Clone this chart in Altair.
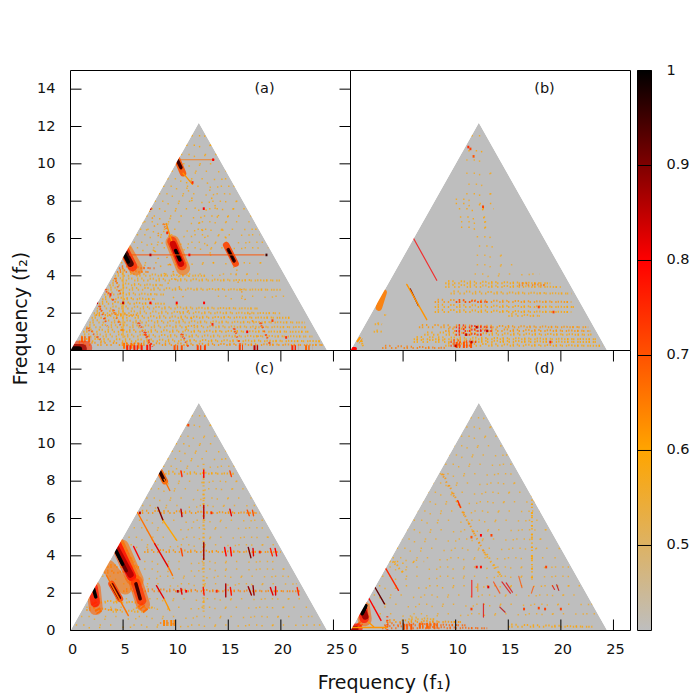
from __future__ import annotations

import altair as alt
import pandas as pd

FONT = "DejaVu Sans"
X_MAX = 26.62
Y_MAX = 15

X_TICKS = [0, 5, 10, 15, 20, 25]
Y_TICKS = [0, 2, 4, 6, 8, 10, 12, 14]
CB_TICKS = [0.5, 0.6, 0.7, 0.8, 0.9, 1]

# palette of the bicoherence scale
CB_VALUES = [0.4105, 0.6, 0.8, 1.0]
CB_COLORS = ["#bebebe", "#ffa500", "#ff0000", "#000000"]

TRI_F1 = [0, 12.2, 24.4]
TRI_F2 = [0, 12.2, 0]
MASK_F1 = [0, 12.2, 24.4, 26.62]
MASK_F2 = [0, 12.2, 0, 0]

# segments are (f1, f2, f1 end, f2 end, level), cells are (f1, f2, level)
A_SPARSE = [
    (4.8, 4.7, 19, 4.7, .58), (5.6, 5.5, 18.8, 5.5, .58), (6, 5.8, 18.5, 5.8, .57), (6.3, 6.2, 18, 6.2, .58),
    (6.6, 6.5, 17.8, 6.5, .58), (7, 6.9, 17.5, 6.9, .57), (7.2, 7.2, 17.2, 7.2, .6), (7.7, 7.6, 16.8, 7.6, .6),
    (8, 8, 16.4, 8, .58), (8.4, 8.4, 16, 8.4, .57), (8.8, 8.8, 15.6, 8.8, .58), (9.2, 9.2, 15.2, 9.2, .58),
    (9.6, 9.6, 14.8, 9.6, .57), (10, 10, 14.4, 10, .58), (10.5, 10.5, 13.9, 10.5, .58), (11, 11, 13.4, 11, .6),
    (11.5, 11.5, 12.9, 11.5, .6), (9, 4.1, 18, 4.1, .57), (14, 2.9, 20.5, 2.9, .57), (6, 8.2, 11.5, .5, .6),
    (10.8, 9.4, 14, 4, .6), (13, 9, 16, 4, .6), (7.5, 7.5, 12, 1, .62), (15.5, 4.5, 18, .5, .62),
]
A_DENSE = [
    (.5, .3, 24, .3, .62), (.8, .5, 23.7, .5, .6), (1, .75, 23, .75, .58), (1.2, 1, 22.8, 1, .6),
    (1.5, 1.25, 22.5, 1.25, .58), (1.8, 1.5, 22.3, 1.5, .58), (2, 1.75, 21, 1.75, .6), (2.2, 2, 20, 2, .58),
    (2.5, 2.25, 18, 2.25, .58), (2.7, 2.5, 9, 2.5, .6), (3, 2.75, 8, 2.75, .6), (3.2, 3, 9, 3, .58),
    (3.5, 3.25, 20, 3.25, .58), (3.7, 3.5, 9, 3.5, .58), (4, 3.75, 20, 3.75, .58), (4.2, 4, 13, 4, .58),
    (4.4, 4.2, 7.5, 4.2, .65), (4.6, 4.4, 8, 4.4, .68), (3.2, 3.3, 4.2, 2.6, .72), (1.5, 1.2, 3, .5, .7),
    (6.4, 1.5, 7.6, .3, .72), (7, 1, 7.8, .2, .75), (2.7, 2.4, 3.5, 1.3, .72), (4, 2.2, 5, 1, .68),
    (18, 1.5, 19, .3, .72), (15.5, 1.2, 16.2, .2, .72), (10.5, .9, 11.2, .2, .72), (8.8, 6.8, 9.7, 5.8, .66),
    (4.2, 3.9, 4.8, 2.9, .68), (5.4, 5.7, 4.9, 4.9, .7), (2.4, 1.9, 6.5, 1.9, .62),
]
A_PATCH = [
    (5, .25, 7, .25, .66), (5.3, .12, 6.9, .12, .76), (9.8, .12, 10.8, .12, .7), (12, .12, 12.9, .12, .72),
    (17.4, .12, 17.9, .12, .85), (21, .12, 21.7, .12, .76), (22.3, .12, 23, .12, .68), (16, .15, 16.4, .15, .72),
    (7.2, .15, 7.8, .15, .78), (1, .6, 2, .6, .68),
]
A_XL = [(9.7, 5.8, 10.7, 4.4, .66), (5.2, 5.4, 6.2, 4.4, .66), (0, .15, 1.4, .15, .74)]
A_L = [(9.65, 5.85, 10.6, 4.55, .74), (5.1, 5.4, 5.9, 4.5, .76), (0, .1, 1.1, .1, .88)]
A_M = [
    (9.75, 5.7, 10.5, 4.65, .84), (5, 5.4, 5.7, 4.65, .95), (0, .06, .8, .06, 1), (14.8, 5.65, 15.7, 4.65, .72),
    (10.1, 10.3, 10.7, 9.5, .7),
]
A_S = [
    (10, 5.35, 10.4, 4.85, 1), (5, 5.3, 5.5, 4.75, 1), (15, 5.4, 15.55, 4.8, .95), (10.15, 10.2, 10.5, 9.8, .95),
]
A_T = [(15.05, 5.35, 15.5, 4.85, 1), (9.1, 6.8, 9.6, 5.9, .62), (10.7, 9.5, 11.6, 8.9, .62)]
A_FAINT = [(5.6, 5.12, 18.4, 5.12, .7), (10.5, 10.22, 13.7, 10.22, .66), (5, .7, 5, 4.4, .6)]
A_CELLS = [
    (7.6, 5.12, .85), (11.3, 5.12, .8), (18.63, 5.12, .95), (13.56, 10.22, .8), (2.53, 2.55, .85), (5, 2.55, .85),
    (7.6, 2.55, .8), (10.1, 2.55, .8), (12.7, 2.55, .8), (7.6, 7.6, .85), (12.67, 7.6, .8), (9.2, 6.3, .75),
    (11.6, 9, .75), (3.8, 3, .75), (16.8, 1, .8), (20.5, .7, .75), (13.5, 1.4, .75), (19.2, 1.6, .72),
]

B_SPARSE = [
    (10, 7.87, 13.8, 7.87, .6), (10.3, 7.6, 13.6, 7.6, .6), (10.4, 7.15, 13.4, 7.15, .6), (10.5, 6.9, 13.2, 6.9, .58),
    (10.5, 6.6, 13.4, 6.6, .6), (11, 8.4, 13.5, 8.4, .58), (11.2, 8.9, 13.2, 8.9, .56), (12, 6.1, 13.7, 6.1, .58),
    (12.2, 5.6, 14, 5.6, .58), (12, 5.1, 15, 5.1, .56), (12, 4.6, 16, 4.6, .56), (11.8, 4.1, 18, 4.1, .56),
    (11, 9.5, 13.6, 9.5, .56), (11, 10.2, 13, 10.2, .56), (11.2, 10.7, 12.9, 10.7, .6), (11.5, 11.5, 12.6, 11.5, .58),
    (10, 8.1, 12, 8.1, .58),
]
B_DENSE = [
    (3, .14, 9, .14, .65), (9, .25, 24, .25, .6), (6, .45, 23.6, .45, .6), (6, .6, 23.4, .6, .6),
    (7, .85, 23, .85, .6), (9, 1.05, 22.8, 1.05, .62), (6.5, 1.25, 22.6, 1.25, .62), (9.5, .45, 12, .45, .72),
    (9.5, .25, 11.5, .25, .72), (10, 1.05, 13.5, 1.05, .78), (10, 1.25, 13.5, 1.25, .76), (10, .85, 12.5, .85, .75),
    (8, 2.06, 21, 2.06, .6), (8, 2.33, 21.5, 2.33, .6), (8, 2.6, 21, 2.6, .62), (10, 2.6, 13, 2.6, .72),
    (9, 3.4, 20, 3.4, .58), (9, 3.6, 19, 3.6, .6), (9.5, 3.05, 21, 3.05, .58), (16, 3.5, 18.5, 3.5, .65),
    (1, .55, 1.2, .2, .6), (2.2, 1, 3, 1, .58), (2.3, 1.4, 3, 1.4, .58), (3.2, 1.9, 3.4, 1.9, .58),
    (15, 1.85, 18, 1.85, .58),
]
B_PATCH = [(10, .3, 11.6, .3, .7), (.7, .62, 1, .5, .62)]
B_XL = []
B_L = []
B_M = [(3.15, 3.1, 2.7, 2.3, .65)]
B_S = [(0, .1, .45, .1, .8)]
B_T = [(5.67, 3.3, 6.46, 2.4, .9), (5.35, 3.54, 7.25, 1.65, .62)]
B_FAINT = [(6, 6, 8.2, 3.76, .8)]
B_CELLS = [
    (11.2, 10.9, .75), (11.4, 10.8, .72), (11.7, 10.4, .7), (12.6, 7.7, .72), (13, 1.05, .85), (12, 1.25, .85),
    (11, .85, .85), (11.5, .45, .85), (10, .25, .85), (17.9, 2.33, .72), (19.3, 2.06, .72), (19, .45, .75),
]

C_SPARSE = [
    (.5, .3, 24, .3, .58), (1, .75, 23, .75, .56), (1.5, 1.25, 22.5, 1.25, .57), (2, 1.7, 22, 1.7, .56),
    (5, 2.5, 21.5, 2.5, .56), (3, 2.9, 21, 2.9, .56), (7, 3.3, 20.5, 3.3, .56), (7, 3.7, 20, 3.7, .56),
    (5, 4.6, 19.5, 4.6, .56), (5.5, 5, 19, 5, .56), (6, 5.5, 18.8, 5.5, .56), (6.5, 5.9, 18.4, 5.9, .56),
    (6.8, 6.7, 17.6, 6.7, .56), (7.2, 7.1, 17.2, 7.1, .56), (7.6, 7.6, 16.8, 7.6, .56), (8, 8, 16.4, 8, .56),
    (8.8, 8.8, 15.6, 8.8, .56), (9.2, 9.2, 15.2, 9.2, .58), (9.6, 9.6, 14.8, 9.6, .58), (10, 10, 14.4, 10, .58),
    (10.4, 10.4, 14, 10.4, .56), (11, 11, 13.4, 11, .56), (11.5, 11.5, 12.9, 11.5, .58), (8.5, .4, 10.2, .4, .66),
]
C_DENSE = [
    (5, 2.1, 22, 2.1, .64), (7, 4.2, 20, 4.2, .62), (6.5, 6.3, 18, 6.3, .62), (9, 8.4, 15.5, 8.4, .6),
    (1.5, 1.1, 4.8, 1.1, .62), (2, 1.5, 7, 1.5, .6), (3.2, 3.1, 6, 3.1, .64), (3.5, 3.4, 6.6, 3.4, .62),
    (6.2, 1.2, 8, 1.2, .58), (12.65, 1, 12.65, 9, .58), (4.6, 4.9, 6.4, 3.3, .6), (4, 1, 7, 1, .58),
]
C_PATCH = [(8.8, .4, 10, .4, .64), (2.2, 1.5, 2.8, .9, .66), (6.6, 1.4, 7.2, 1, .66)]
C_XL = [
    (4.5, 4.6, 5.9, 2.8, .7), (4.9, 4.5, 6.3, 2.7, .66), (3.6, 3.4, 5.2, 2.3, .66), (2.2, 2.3, 2.4, 1.2, .68),
    (6.2, 2.6, 6.9, 1.4, .68),
]
C_L = [(4.4, 4.6, 5.8, 2.9, .8), (2.15, 2.3, 2.35, 1.5, .78), (6.2, 2.55, 6.75, 1.6, .74)]
C_M = [(4.35, 4.4, 5.7, 3, .86), (3.9, 2.5, 4.7, 1.7, .72), (8.5, 8.5, 8.97, 8, .68)]
C_S = [
    (4.37, 4.2, 5.3, 3.2, .92), (4.3, 4.3, 4.95, 3.55, 1), (6.22, 2.5, 6.62, 1.7, .95), (2.18, 2.25, 2.4, 1.8, 1),
    (3.95, 2.45, 4.65, 1.75, .92), (8.5, 8.5, 8.9, 8.05, .97),
]
C_T = [
    (3.42, 2.95, 5.5, .8, .66), (8.9, 8.1, 9.44, 7.5, .66), (8.3, 6.6, 8.8, 5.9, .9), (8.8, 5.9, 10.1, 4.83, .6),
    (6.34, 6.35, 8, 4.65, .66), (8, 4.65, 9.3, 3.4, .82), (9.3, 3.4, 9.7, 2.95, .66), (6, 4.5, 6.6, 3.8, .8),
    (8.17, 2.4, 8.9, 1.7, .82), (8.9, 1.7, 9.44, 1.07, .62),
    (10.5, 8.55, 10.6, 8.25, .75), (12.67, 8.6, 12.67, 8.2, .8), (15.15, 8.55, 15.3, 8.25, .72),
    (10.5, 6.5, 10.6, 6.1, .85), (12.67, 6.7, 12.67, 6, .85), (15.15, 6.5, 15.3, 6.15, .82),
    (16.8, 6.45, 17, 6.15, .7), (17.3, 6.45, 17.4, 6.15, .7),
    (10.5, 4.4, 10.65, 4, .72), (12.67, 4.7, 12.67, 3.8, .88), (14.65, 4.45, 14.8, 4, .8), (15.2, 4.45, 15.3, 4, .8),
    (16.9, 4.45, 17.15, 3.9, .9), (17.35, 4.4, 17.4, 4, .82), (19, 4.4, 19.2, 4, .75), (19.45, 4.4, 19.6, 4, .8),
    (10.5, 2.25, 10.6, 1.95, .82), (12.62, 2.3, 12.7, 1.9, .78), (14.76, 2.5, 14.76, 1.8, .86), (15.2, 2.3, 15.3, 1.9, .78),
    (16.9, 2.35, 17.2, 1.9, .88), (17.35, 2.4, 17.45, 1.9, .88), (19, 2.3, 19.25, 1.9, .82), (19.5, 2.35, 19.5, 1.9, .82),
    (21.55, 2.3, 21.7, 1.9, .75),
]
C_FAINT = []
C_CELLS = [(10.2, 2.1, .85), (11, 2.1, .8), (11.2, 11, .72), (6.6, 6.3, .85), (13.4, 6.3, .75), (18, 4.2, .75), (13.9, 2.1, .75)]

D_SPARSE = [
    (.5, .9, 24, .9, .56), (1, 1.4, 23, 1.4, .56), (1.5, 1.9, 22, 1.9, .56), (2, 2.4, 22, 2.4, .58),
    (3, 2.9, 21, 2.9, .56), (3, 3.4, 21, 3.4, .56), (3.7, 3.7, 7, 3.7, .6), (4, 3.9, 20, 3.9, .56),
    (4.4, 4.4, 20, 4.4, .56), (4.8, 4.9, 19, 4.9, .56), (5.3, 5.4, 19, 5.4, .56), (6, 5.9, 18, 5.9, .56),
    (6.3, 6.4, 18, 6.4, .56), (6.8, 6.9, 17.5, 6.9, .56), (7.3, 7.4, 17, 7.4, .56), (7.8, 7.9, 16.5, 7.9, .56),
    (8.5, 8.4, 16, 8.4, .56), (9, 8.9, 15.5, 8.9, .56), (9.3, 9.4, 15, 9.4, .56), (9.8, 9.9, 14.5, 9.9, .56),
    (10.5, 10.4, 14, 10.4, .56), (11, 10.9, 13.5, 10.9, .56), (11.4, 11.4, 13, 11.4, .56),
]
D_DENSE = [
    (3, .12, 13, .12, .68), (3.2, .28, 11, .28, .68), (3.4, .45, 10.5, .45, .62), (5.5, .6, 8, .6, .58),
    (3.5, 0, 3.5, .8, .72), (8.68, 8.4, 12.8, 4.1, .62), (12.8, 4.1, 14.4, 2.86, .6),
    (17.25, 7.5, 17.25, 2.7, .6), (4, 3.7, 5, 3.1, .6), (15, .2, 23, .2, .6),
]
D_PATCH = [(5, .2, 6, .2, .7), (6.5, .25, 8.5, .25, .68), (.7, .4, 1, .2, .68)]
D_XL = [(1.2, 1.2, 1.35, .6, .68)]
D_L = [(1.15, 1.2, 1.3, .65, .78), (0, .12, .7, .12, .78)]
D_M = [(1.15, 1.15, 1.4, .75, .88), (0, .08, .45, .08, .88)]
D_S = [(1.15, .95, 1.4, 1.25, 1), (1.1, .9, 1.46, 1.34, 1)]
D_T = [
    (1.77, 1.7, 2.9, .54, .8), (2.35, 2.29, 3.23, 1.43, .92), (3.36, 3.31, 4.56, 2.15, .75), (10.2, 6.95, 10.45, 6.6, .75),
    (1.7, .45, 2.2, .2, .62), (0, .16, 3.5, .16, .62),
]
D_FAINT = [
    (11.53, 2.68, 11.53, 1.79, .8), (12.64, 1.43, 12.64, .72, .82), (13.6, 2.6, 14.2, 2, .72), (14.4, 2.6, 15.2, 2, .82),
    (14.8, 2.55, 15.4, 2.05, .82), (16, 2.9, 16.3, 2.3, .7), (17.4, 2.35, 17.2, 2, .7), (19.2, 2.4, 19.4, 2.2, .82),
    (19.6, 2.45, 19.8, 2.15, .85), (14.2, 1.25, 14.7, .98, .85), (12.1, 2.5, 12.1, 2.1, .62),
]
D_CELLS = [
    (13.1, 2.33, .82), (12, 3.4, .78), (12.4, 3.4, .78), (12.4, 5.1, .8), (13.4, 5.1, .72), (11.5, 5, .7),
    (17.9, 1.2, .72), (18.5, 1.15, .72), (16.5, 1.15, .72), (20, 1.15, .72), (11.5, 1.15, .72), (18.6, 3.4, .72),
]

color_scale = alt.Scale(domain=CB_VALUES, range=CB_COLORS, interpolate="rgb", clamp=True)
x_scale = alt.Scale(domain=[0, X_MAX], nice=False, zero=False)
y_scale = alt.Scale(domain=[0, Y_MAX], nice=False, zero=False)
NO_X = alt.X("f1:Q", scale=x_scale, axis=None)
NO_Y = alt.Y("f2:Q", scale=y_scale, axis=None)


def _segments(rows, width, dash=None, opacity=1.0, shift=0, phase=0):
    df = pd.DataFrame(rows, columns=["f1", "f2", "f1e", "f2e", "v"])
    opts = {"strokeWidth": width, "clip": True, "opacity": opacity}
    if dash:
        opts["strokeDash"] = dash
        opts["strokeDashOffset"] = phase
        opts["yOffset"] = shift
    else:
        opts["strokeCap"] = "round"
    return alt.Chart(df).mark_rule(**opts).encode(
        x=NO_X, y=NO_Y, x2="f1e:Q", y2="f2e:Q",
        color=alt.Color("v:Q", scale=color_scale, legend=None),
    )


def _ticks(values, on_x, second):
    df = pd.DataFrame({"t": values})
    base = alt.Chart(df).mark_rule(color="black", strokeWidth=1)
    if on_x:
        return base.encode(x=alt.X("t:Q", scale=x_scale, axis=None), y=alt.value(second[0]), y2=alt.value(second[1]))
    return base.encode(y=alt.Y("t:Q", scale=y_scale, axis=None), x=alt.value(second[0]), x2=alt.value(second[1]))


def _tick_labels(values, on_x):
    df = pd.DataFrame({"t": values, "s": [str(v) for v in values]})
    if on_x:
        return alt.Chart(df).mark_text(font=FONT, fontSize=14.5, color="#111111", dx=2).encode(
            x=alt.X("t:Q", scale=x_scale, axis=None), y=alt.value(299), text="s:N")
    return alt.Chart(df).mark_text(font=FONT, fontSize=14.5, color="#111111", align="right").encode(
        y=alt.Y("t:Q", scale=y_scale, axis=None), x=alt.value(-15), text="s:N")


def _label(text, x, y, size=14.5, angle=0):
    df = pd.DataFrame({"t": [text]})
    return alt.Chart(df).mark_text(font=FONT, fontSize=size, angle=angle, color="#111111").encode(
        text="t:N", x=alt.value(x), y=alt.value(y)
    )


def panel(name, sparse, dense, patch, xl, l, m, s, t, faint, cells, left=False, bottom=False, extra=()):
    tri = pd.DataFrame({"f1": TRI_F1, "f2": TRI_F2, "low": [0, 0, 0]})
    back = alt.Chart(tri).mark_area(color=CB_COLORS[0]).encode(
        x=NO_X, y=alt.Y("f2:Q", scale=y_scale, axis=None, stack=None), y2="low:Q",
    )
    layers = [back]
    sparse_dash = [1.4, 6, 1.4, 15, 1.4, 9, 1.4, 22]
    dense_dash = [1.4, 1.6, 1.4, 4.5, 1.4, 2.8, 1.4, 7]
    layers.append(_segments(sparse, 1.5, dash=sparse_dash, opacity=0.85))
    layers.append(_segments(sparse, 1.5, dash=sparse_dash, opacity=0.85, shift=3, phase=11))
    layers.append(_segments(dense, 2, dash=dense_dash, opacity=0.8))
    layers.append(_segments(dense, 2, dash=dense_dash, opacity=0.8, shift=-2.3, phase=6))
    if patch:
        layers.append(_segments(patch, 6, dash=[2, 1.2, 1.4, 2.6]))
    # soft halos round the strong peaks, widest and palest first
    for rows, width, alpha in ((xl, 14, 0.6), (l, 9.5, 0.75), (m, 6.5, 0.9)):
        if rows:
            layers.append(_segments(rows, width, opacity=alpha))
    for rows, width in ((s, 3.5), (t, 1.4)):
        if rows:
            layers.append(_segments(rows, width))
    if faint:
        layers.append(_segments(faint, 1.2, opacity=0.75))
    cell_df = pd.DataFrame(cells, columns=["f1", "f2", "v"])
    layers.append(alt.Chart(cell_df).mark_rect(width=2, height=2.6).encode(
        x=NO_X, y=NO_Y, color=alt.Color("v:Q", scale=color_scale, legend=None)))
    mask = pd.DataFrame({"f1": MASK_F1, "f2": MASK_F2, "top": [Y_MAX] * 4})
    layers.append(alt.Chart(mask).mark_area(color="white").encode(
        x=NO_X, y=alt.Y("f2:Q", scale=y_scale, axis=None, stack=None), y2="top:Q"))
    if left:
        layers.append(_ticks(Y_TICKS, False, (0, 11)))
        layers.append(_ticks(Y_TICKS, False, (269, 280)))
        layers.append(_tick_labels(Y_TICKS, False))
    if bottom:
        layers.append(_ticks(X_TICKS, True, (269, 280)))
        layers.append(_ticks(X_TICKS, True, (0, 11)))
        layers.append(_tick_labels(X_TICKS, True))
    frame = pd.DataFrame({"a": [0]})
    layers.append(alt.Chart(frame).mark_rect(filled=False, stroke="black", strokeWidth=1).encode(
        x=alt.value(0), x2=alt.value(280), y=alt.value(0), y2=alt.value(280)))
    layers.append(_label(name, 194, 18))
    layers.extend(extra)
    return alt.layer(*layers).properties(width=280, height=280)


# colour bar hangs off panel (b) on a y scale of its own, 560 px tall
cb_scale = alt.Scale(domain=[CB_VALUES[0], 1], range=[560, 0], nice=False, zero=False)
stops = [
    alt.GradientStop(offset=(v - CB_VALUES[0]) / (1 - CB_VALUES[0]), color=col)
    for v, col in zip(CB_VALUES, CB_COLORS)
]
gradient = alt.LinearGradient(gradient="linear", stops=stops, x1=0, x2=0, y1=1, y2=0)
cb_df = pd.DataFrame({"lo": [CB_VALUES[0]], "hi": [1.0]})
cb_tick_df = pd.DataFrame({"t": CB_TICKS, "s": [str(v) for v in CB_TICKS]})
cb_bar = alt.Chart(cb_df).mark_rect(color=gradient, stroke="black", strokeWidth=1).encode(
    y=alt.Y("lo:Q", scale=cb_scale, axis=None), y2="hi:Q", x=alt.value(287), x2=alt.value(301),
)
cb_ticks = alt.Chart(cb_tick_df).mark_rule(color="black", strokeWidth=1).encode(
    y=alt.Y("t:Q", scale=cb_scale, axis=None), x=alt.value(287), x2=alt.value(301))
cb_labels = alt.Chart(cb_tick_df).mark_text(font=FONT, fontSize=14.5, color="#111111", align="left").encode(
    y=alt.Y("t:Q", scale=cb_scale, axis=None), x=alt.value(316), text="s:N")

a = panel("(a)", A_SPARSE, A_DENSE, A_PATCH, A_XL, A_L, A_M, A_S, A_T, A_FAINT, A_CELLS, left=True,
          extra=[_label("Frequency (f\u2082)", -50, 248, size=19, angle=270)])
b = panel("(b)", B_SPARSE, B_DENSE, B_PATCH, B_XL, B_L, B_M, B_S, B_T, B_FAINT, B_CELLS,
          extra=[cb_bar, cb_ticks, cb_labels]).resolve_scale(y="independent")
c = panel("(c)", C_SPARSE, C_DENSE, C_PATCH, C_XL, C_L, C_M, C_S, C_T, C_FAINT, C_CELLS, left=True, bottom=True)
d = panel("(d)", D_SPARSE, D_DENSE, D_PATCH, D_XL, D_L, D_M, D_S, D_T, D_FAINT, D_CELLS, bottom=True,
          extra=[_label("Frequency (f\u2081)", 34, 332, size=19)])

chart = (
    alt.concat(a, b, c, d, columns=2, spacing=0, bounds="flush")
    .properties(padding={"left": 3.5, "top": 54.5, "right": 0, "bottom": 0}, background="white")
    .configure_view(strokeWidth=0)
)
chart.save("out.html", embed_options={"renderer": "svg", "actions": False})
